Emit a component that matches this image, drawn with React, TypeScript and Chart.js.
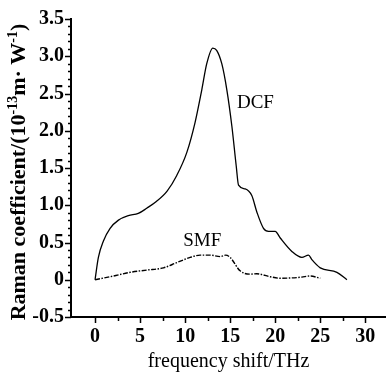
import { useEffect, useRef } from 'react';
import { Chart, registerables } from 'chart.js';
Chart.register(...registerables);

const dcfX = [0, 0.37, 0.93, 1.67, 2.6, 3.7, 4.8, 5.74, 6.8, 8.0, 9.07, 10.19, 11.1, 11.85, 12.4, 13.07, 13.5, 14.07, 14.63, 15.19, 15.67, 15.93, 16.67, 17.4, 17.96, 18.7, 19.26, 20.0, 20.56, 21.85, 22.96, 23.7, 24.07, 25.0, 26.85, 27.96];
const dcfY = [0, 0.3, 0.52, 0.69, 0.8, 0.86, 0.89, 0.96, 1.05, 1.19, 1.4, 1.71, 2.11, 2.55, 2.9, 3.11, 3.08, 2.9, 2.55, 2.06, 1.53, 1.27, 1.22, 1.13, 0.91, 0.69, 0.65, 0.65, 0.56, 0.38, 0.3, 0.33, 0.27, 0.16, 0.1, 0];

const smfX = [0, 2.04, 3.9, 5.74, 7.6, 9.07, 10.56, 11.67, 12.8, 13.9, 14.5, 15.0, 16.1, 17.2, 17.96, 19.44, 20.56, 22.5, 23.9, 25];
const smfY = [0, 0.05, 0.1, 0.13, 0.16, 0.23, 0.3, 0.33, 0.33, 0.31, 0.33, 0.3, 0.12, 0.075, 0.08, 0.04, 0.02, 0.03, 0.05, 0.02];

const xTicks = [0, 5, 10, 15, 20, 25, 30];
const xMinorTicks = [2.5, 7.5, 12.5, 17.5, 22.5, 27.5];
const yTicks = [-0.5, 0, 0.5, 1.0, 1.5, 2.0, 2.5, 3.0, 3.5];
const yMinorTicks = [-0.4, -0.3, -0.2, -0.1, 0.1, 0.2, 0.3, 0.4, 0.6, 0.7, 0.8, 0.9, 1.1, 1.2, 1.3, 1.4, 1.6, 1.7, 1.8, 1.9, 2.1, 2.2, 2.3, 2.4, 2.6, 2.7, 2.8, 2.9, 3.1, 3.2, 3.3, 3.4];

const seriesLabels = [
  { text: 'DCF', x: 17.8, y: 2.37 },
  { text: 'SMF', x: 11.9, y: 0.52 },
];

const xTitle = 'frequency shift/THz';
const yTitleParts = [
  { t: 'Raman coefficient/(10', sup: false },
  { t: '-13', sup: true },
  { t: 'm· W', sup: false },
  { t: '-1', sup: true },
  { t: ')', sup: false },
];

const FONT = "'Liberation Serif', 'Times New Roman', serif";

export default function App() {
  const ref = useRef<HTMLCanvasElement>(null);
  useEffect(() => {
    const canvas = ref.current!;
    const decor = {
      id: 'decor',
      afterDraw(chart: any) {
        const ctx = chart.ctx;
        const xs = chart.scales.x;
        const ys = chart.scales.y;
        const ca = chart.chartArea;
        ctx.save();
        ctx.strokeStyle = '#000';
        ctx.lineWidth = 1.5;
        ctx.beginPath();
        yTicks.forEach((v) => {
          const p = Math.round(ys.getPixelForValue(v)) + 0.5;
          ctx.moveTo(ca.left - 6, p);
          ctx.lineTo(ca.left, p);
        });
        yMinorTicks.forEach((v) => {
          const p = Math.round(ys.getPixelForValue(v)) + 0.5;
          ctx.moveTo(ca.left - 3, p);
          ctx.lineTo(ca.left, p);
        });
        xTicks.forEach((v) => {
          const p = Math.round(xs.getPixelForValue(v)) + 0.5;
          ctx.moveTo(p, ca.bottom);
          ctx.lineTo(p, ca.bottom + 6);
        });
        xMinorTicks.forEach((v) => {
          const p = Math.round(xs.getPixelForValue(v)) + 0.5;
          ctx.moveTo(p, ca.bottom);
          ctx.lineTo(p, ca.bottom + 4);
        });
        ctx.stroke();

        ctx.fillStyle = '#000';
        ctx.font = `19px ${FONT}`;
        ctx.textAlign = 'center';
        ctx.textBaseline = 'middle';
        seriesLabels.forEach((l) => {
          ctx.fillText(l.text, xs.getPixelForValue(l.x), ys.getPixelForValue(l.y));
        });

        const main = `bold 22px ${FONT}`;
        const sup = `bold 14px ${FONT}`;
        let total = 0;
        yTitleParts.forEach((p) => {
          ctx.font = p.sup ? sup : main;
          total += ctx.measureText(p.t).width;
        });
        ctx.translate(18, 172);
        ctx.rotate(-Math.PI / 2);
        ctx.textAlign = 'left';
        ctx.textBaseline = 'alphabetic';
        let cx = -total / 2;
        yTitleParts.forEach((p) => {
          ctx.font = p.sup ? sup : main;
          ctx.fillText(p.t, cx, p.sup ? -1 : 7);
          cx += ctx.measureText(p.t).width;
        });
        ctx.restore();
      },
    };

    const chart = new Chart(canvas, {
      type: 'line',
      data: {
        datasets: [
          {
            label: 'DCF',
            data: dcfX.map((x, i) => ({ x, y: dcfY[i] })),
            borderColor: '#000',
            borderWidth: 1.3,
            pointRadius: 0,
            cubicInterpolationMode: 'monotone',
            fill: false,
          },
          {
            label: 'SMF',
            data: smfX.map((x, i) => ({ x, y: smfY[i] })),
            borderColor: '#000',
            borderWidth: 1.4,
            borderDash: [5, 1.5, 1.5, 1.5],
            pointRadius: 0,
            cubicInterpolationMode: 'monotone',
            fill: false,
          },
        ],
      },
      options: {
        responsive: false,
        animation: false,
        events: [],
        layout: { padding: { top: 15, right: 0, left: 0, bottom: 0 } },
        plugins: { legend: { display: false }, tooltip: { enabled: false } },
        scales: {
          x: {
            type: 'linear',
            min: -2.67,
            max: 32.3,
            afterFit: (s: any) => { s.height = 60; },
            afterBuildTicks: (s: any) => { s.ticks = xTicks.map((v) => ({ value: v })); },
            grid: { display: false, drawTicks: false },
            border: { display: true, color: '#000', width: 2 },
            ticks: {
              color: '#000',
              padding: 8,
              maxRotation: 0,
              autoSkip: false,
              font: { family: FONT, size: 20, weight: 'bold' },
              callback: (v: any) => String(v),
            },
            title: {
              display: true,
              text: xTitle,
              color: '#000',
              font: { family: FONT, size: 20 },
              padding: { top: 0, bottom: 3 },
            },
          },
          y: {
            type: 'linear',
            min: -0.5,
            max: 3.5,
            afterFit: (s: any) => { s.width = 71; },
            afterBuildTicks: (s: any) => { s.ticks = yTicks.map((v) => ({ value: v })); },
            grid: { display: false, drawTicks: false },
            border: { display: true, color: '#000', width: 2 },
            ticks: {
              color: '#000',
              padding: 7,
              autoSkip: false,
              font: { family: FONT, size: 20, weight: 'bold' },
              callback: (v: any) => (v === 0 ? '0' : Number(v).toFixed(1)),
            },
          },
        },
      },
      plugins: [decor],
    } as any);
    return () => chart.destroy();
  }, []);

  return (
    <div style={{ position: 'fixed', left: 0, top: 0, width: 386, height: 377, background: '#fff' }}>
      <canvas ref={ref} width={386} height={377} style={{ display: 'block' }} />
    </div>
  );
}
